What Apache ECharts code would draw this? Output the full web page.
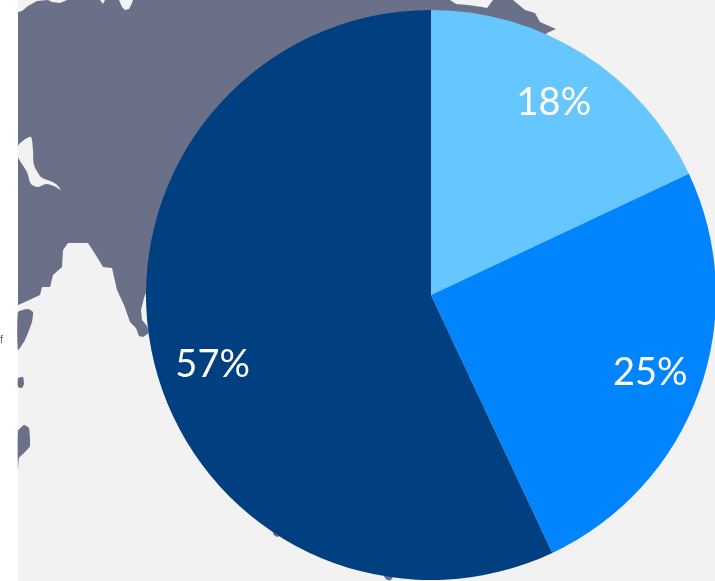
<!DOCTYPE html>
<html>
<head>
<meta charset="utf-8">
<style>
html,body{margin:0;padding:0;background:#fff;}
#chart{width:715px;height:581px;}
</style>
<script src="https://cdn.jsdelivr.net/npm/echarts@6/dist/echarts.min.js"></script>
</head>
<body>
<div id="chart"></div>
<script>
// chart values
var categories = ["A", "B", "C"];
var shareValues = [18, 25, 57];
var sliceColors = ["#66c7ff", "#0085ff", "#004080"];
// the labels were hand placed in the original, not exactly on the radius
var labelOffsets = [[-2,4],[0,-1],[9,19]];

// backdrop map, only decoration behind the pie
var landMain = [[18,12],[22,11],[28,6],[37,1],[48,0],[52,2],[60,3],[67,0],[100,0],[103,4],[105,0],[119,0],[122,7],[125,10],[129,9],[132,3],[133,0],
	[450,0],[456,4],[468,5],[482,7],[487,8],[493,0],[513,0],[525,10],[535,13],[540,22],[556,29],[547,33],[500,100],[300,290],
	[147,290],[144,298],[141,310],[142,320],[147,326],[149,333],[143,337],[139,336],[136,328],[130,322],[124,305],[117,290],[112,268],[103,267],[97,257],[88,243],[68,243],[63,250],[62,267],[53,275],[50,287],[42,287],[40,295],[25,302],[18,305]];
var gulf = [[18,146],[24,140],[31,137],[33,150],[34,165],[41,177],[50,181],[56,184],[61,190],[54,186],[46,184],[38,187],[31,184],[27,172],[18,157]];
var landPieces = [
	[[18,312],[28,309],[33,312],[32,322],[25,340],[18,350]],
	[[18,378],[23,377],[24,384],[22,388],[18,387]],
	[[18,431],[24,425],[29,428],[30,446],[24,453],[19,458],[18,470]],
	[[275,530],[280,531],[281,535],[277,537],[273,534]],
	[[384,576],[393,576],[391,580],[387,580]]
];

function makeBackdrop(){
	var items = [
		{type:'rect',shape:{x:18,y:0,width:697,height:581},style:{fill:'#f2f2f2'},silent:true},
		{type:'polygon',shape:{points:landMain},style:{fill:'#6b7089'},silent:true},
		{type:'polygon',shape:{points:gulf,smooth:0.25},style:{fill:'#f2f2f2'},silent:true},
		{type:'text',x:0,y:334,style:{text:'f',fill:'#666',font:'11px "Liberation Sans"'},silent:true}
	];
	for(var i=0;i<landPieces.length;i++){
		items.push({type:'polygon',shape:{points:landPieces[i],smooth:0.15},style:{fill:'#6b7089'},silent:true});
	}
	return items;
}

var pieData = [];
var labelData = [];
for(var i=0;i<categories.length;i++){
	pieData.push({name:categories[i],value:shareValues[i],itemStyle:{color:sliceColors[i]}});
	labelData.push({name:categories[i],value:shareValues[i],itemStyle:{color:'transparent'},label:{offset:labelOffsets[i]}});
}

var myChart = echarts.init(document.getElementById('chart'),null,{renderer:'canvas'});
myChart.setOption({
	animation:false,
	graphic:{elements:makeBackdrop()},
	series:[
		{
			type:'pie',
			center:[431,295],
			radius:[0,285],
			startAngle:90,
			clockwise:true,
			silent:true,
			label:{show:false},
			labelLine:{show:false},
			data:pieData
		},
		// transparent ring, it just pushes the labels out towards the rim
		{
			type:'pie',
			center:[431,295],
			radius:[175,285],
			startAngle:90,
			clockwise:true,
			silent:true,
			label:{show:true,position:'inside',formatter:'{c}%',color:'#fff',fontFamily:'Lato',fontWeight:400,fontSize:38},
			labelLine:{show:false},
			data:labelData
		}
	]
});
</script>
</body>
</html>
